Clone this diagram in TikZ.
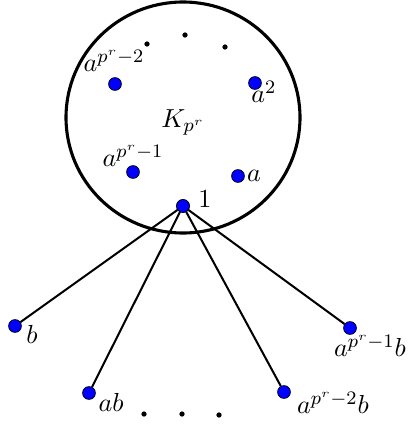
\documentclass[tikz,border=0pt]{standalone}
\begin{document}
\begin{tikzpicture}[x=0.42pt,y=-0.42pt,
  vtx/.style={circle,fill=blue,draw=black,line width=0.3pt,inner sep=0pt,minimum size=5.4pt},
  sdot/.style={circle,fill=black,inner sep=0pt,minimum size=2.2pt},
  edge/.style={line width=0.85pt},
  lbl/.style={inner sep=0pt,font=\fontsize{11}{13}\selectfont}]
\useasboundingbox (0,0) rectangle (408,425);
\draw[line width=1.3pt] (183,117.5) ellipse [x radius=117*0.42pt, y radius=115.5*0.42pt];
\node[lbl] (K) at (183,122) {$K_{p^r}$};
% inner vertices
\node[vtx] (one) at (183,206) {};
\node[vtx] (a) at (238,176) {};
\node[vtx] (a2) at (255,83) {};
\node[vtx] (apm2) at (115,84) {};
\node[vtx] (apm1) at (133,172) {};
\node[lbl] (lone) at (205,199) {$1$};
\node[lbl] (la) at (254,176) {$a$};
\node[lbl] (la2) at (264,92) {$a^2$};
\node[lbl] (lapm2) at (114,61) {$a^{p^r-2}$};
\node[lbl] (lapm1) at (133,156) {$a^{p^r-1}$};
\node[sdot] (d1) at (147,44) {};
\node[sdot] (d2) at (185,35) {};
\node[sdot] (d3) at (225,47) {};
% outer vertices
\node[vtx] (b) at (15,326) {};
\node[vtx] (ab) at (89,393) {};
\node[vtx] (apm2b) at (284,392) {};
\node[vtx] (apm1b) at (350,328) {};
\node[lbl] (lb) at (32,334) {$b$};
\node[lbl] (lab) at (111,402) {$ab$};
\node[lbl] (lapm2b) at (333,403) {$a^{p^r-2}b$};
\node[lbl] (lapm1b) at (370,346) {$a^{p^r-1}b$};
\node[sdot] (e1) at (144,414) {};
\node[sdot] (e2) at (182,414) {};
\node[sdot] (e3) at (219,415) {};
\draw[edge] (one) -- (b);
\draw[edge] (one) -- (ab);
\draw[edge] (one) -- (apm2b);
\draw[edge] (one) -- (apm1b);
\node[vtx] at (one) {};
\end{tikzpicture}
\end{document}
